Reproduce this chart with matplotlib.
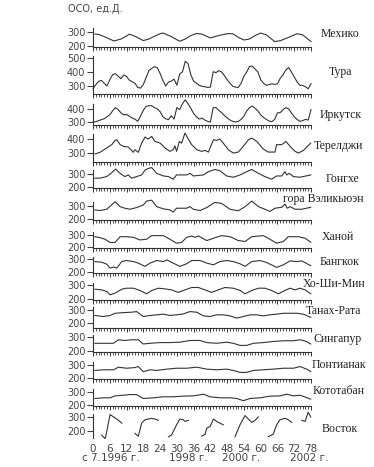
import matplotlib
matplotlib.use("Agg")
import matplotlib.pyplot as plt
import numpy as np
from matplotlib.ticker import MultipleLocator

# station names
stations = ["Мехико", "Тура", "Иркутск", "Терелджи", "Гонгхе", "гора Вэликьюэн",
            "Ханой", "Бангкок", "Хо-Ши-Мин", "Танах-Рата", "Сингапур",
            "Понтианак", "Кототабан", "Восток"]

month_ticks = list(range(0, 79, 6))
year_labels = ["с 7.1996 г.", "1998 г.", "2000 г.", "2002 г."]

# total ozone, DU, month index from 7.1996
mexico_m = [0.7, 2, 4, 6, 7.5, 10, 12, 13, 15, 18, 20, 22, 24, 25, 28, 31, 33, 35, 37, 39, 42,
            45, 48, 50, 52, 54, 56, 58, 60, 62, 65, 67, 70, 73, 75, 78]
mexico_v = [286, 283, 268, 250, 236, 250, 272, 285, 270, 239, 250, 270, 288, 293, 268, 234, 250,
            275, 290, 285, 258, 275, 288, 288, 262, 243, 250, 275, 293, 280, 232, 238, 262, 288,
            280, 232]

tura_v = [280, 310, 333, 340, 320, 300, 345, 380, 388, 370, 352, 378, 368, 342, 330, 320, 290,
          285, 310, 360, 410, 425, 438, 430, 390, 340, 300, 328, 335, 349, 305, 385, 400, 476,
          460, 380, 335, 320, 305, 298, 295, 290, 292, 402, 395, 410, 400, 375, 345, 320, 298,
          292, 290, 320, 370, 400, 440, 442, 420, 400, 345, 320, 305, 310, 315, 312, 315, 355,
          380, 415, 432, 400, 365, 330, 305, 305, 295, 280, 317]

irkutsk_v = [300, 302, 310, 318, 325, 340, 355, 385, 410, 395, 370, 355, 358, 345, 330, 322,
             305, 345, 390, 420, 425, 425, 410, 400, 380, 340, 325, 318, 348, 322, 410, 395,
             440, 470, 440, 405, 365, 340, 322, 330, 315, 305, 300, 410, 410, 390, 372, 350,
             332, 315, 305, 300, 305, 320, 345, 385, 410, 423, 405, 385, 355, 335, 320, 308,
             302, 320, 370, 372, 395, 410, 400, 370, 340, 320, 305, 310, 320, 315, 395]

tereldzh_m = [0.7, 2.5, 4.9, 6.7, 7.9, 8.5, 9.7, 10.9, 12.6, 13.8, 14.4, 15.0, 16.2, 17.4, 18.6,
              19.8, 21.0, 22.2, 24.0, 25.8, 27.5, 28.7, 29.3, 29.9, 30.9, 31.7, 32.9, 34.1,
              35.3, 37.1, 38.9, 40.1, 41.3, 43.1, 44.2, 45.4, 46.6, 48.4, 50.2, 52.0, 53.8,
              55.6, 56.8, 58.6, 60.9, 62.7, 65.1, 65.7, 67.5, 69.0, 70.5, 72.3, 73.5, 75.3, 77.9]
tereldzh_v = [293, 305, 336, 360, 390, 395, 360, 348, 343, 319, 305, 324, 305, 371, 414, 400,
              419, 383, 371, 336, 312, 324, 352, 312, 383, 371, 443, 400, 360, 324, 312, 319,
              307, 395, 390, 400, 371, 324, 300, 307, 348, 395, 407, 383, 329, 307, 307, 360,
              360, 383, 348, 312, 300, 319, 371]

gonghe_m = [0.7, 2.5, 4.9, 6.7, 8.1, 9.7, 11.4, 12.6, 13.8, 15.6, 17.4, 18.6, 19.8, 21.0, 22.8,
            25.2, 27.0, 28.7, 29.9, 33.5, 34.7, 35.9, 39.5, 41.3, 43.6, 45.4, 47.8, 50.2, 52.6,
            55.0, 56.8, 59.2, 61.5, 63.9, 65.7, 67.5, 68.7, 69.3, 70.2, 71.7, 74.1, 77.9]
gonghe_v = [268, 268, 280, 310, 338, 305, 280, 293, 268, 280, 293, 330, 343, 350, 305, 285,
            280, 260, 293, 293, 305, 285, 293, 318, 335, 325, 285, 275, 293, 318, 335, 305,
            280, 260, 285, 285, 318, 293, 305, 280, 275, 293]

veli_m = [0.7, 2.5, 4.9, 7.9, 9.7, 11.4, 13.2, 15.6, 18.0, 19.2, 21.0, 22.8, 25.2, 27.5, 28.7,
          29.9, 33.5, 34.7, 35.9, 38.3, 40.7, 43.6, 46.0, 49.0, 52.0, 54.4, 56.8, 59.2, 61.5,
          63.3, 65.1, 67.5, 68.7, 69.5, 70.5, 72.3, 74.7, 77.9]
veli_v = [270, 265, 275, 333, 295, 283, 275, 288, 308, 338, 345, 295, 278, 270, 253, 283, 283,
          295, 275, 265, 288, 328, 320, 275, 263, 295, 338, 295, 275, 258, 283, 290, 315, 283,
          295, 275, 275, 290]

hanoi_m = [0.7, 2.5, 4.3, 6.1, 7.9, 9.7, 12.0, 14.4, 16.8, 19.2, 21.0, 22.8, 25.2, 27.5, 29.9,
           31.7, 33.5, 35.3, 36.5, 37.7, 40.7, 43.1, 46.0, 49.0, 52.0, 54.4, 56.8, 60.9, 63.3,
           65.7, 68.1, 69.9, 73.5, 75.9, 77.9]
hanoi_v = [286, 278, 265, 238, 238, 286, 286, 281, 259, 265, 295, 295, 295, 265, 232, 238, 281,
           292, 281, 292, 254, 273, 295, 286, 254, 246, 286, 295, 265, 232, 246, 286, 286, 273,
           240]

bangkok_m = [0.7, 3.1, 4.9, 6.1, 7.3, 8.5, 10.3, 12.0, 14.4, 16.2, 18.6, 20.4, 22.8, 25.2, 26.4,
             28.7, 31.1, 33.5, 35.3, 38.3, 40.7, 43.1, 45.4, 47.8, 50.2, 52.6, 54.4, 56.8, 59.8,
             62.1, 65.7, 68.1, 70.5, 72.9, 74.7, 77.9]
bangkok_v = [280, 275, 260, 230, 238, 230, 280, 288, 280, 268, 243, 268, 288, 280, 293, 268,
             243, 263, 288, 288, 268, 255, 280, 288, 280, 263, 243, 280, 288, 273, 235, 255, 285,
             280, 285, 248]

hcm_m = [0.7, 3.1, 4.9, 6.1, 7.9, 10.3, 12.0, 14.4, 16.8, 19.2, 21.0, 23.4, 25.8, 28.1, 30.5,
         32.9, 35.3, 37.7, 40.1, 42.4, 44.8, 47.2, 50.2, 52.6, 54.4, 56.8, 59.2, 61.5, 63.9,
         66.3, 68.7, 70.5, 72.3, 74.1, 75.9, 77.9]
hcm_v = [270, 265, 254, 230, 242, 270, 277, 277, 261, 237, 261, 277, 272, 265, 247, 265, 282,
         282, 265, 247, 265, 282, 277, 261, 237, 261, 277, 277, 261, 237, 261, 277, 265, 277,
         265, 237]

tanah_m = [0.7, 3.7, 6.1, 7.9, 10.9, 13.8, 15.6, 18.0, 20.4, 22.8, 25.2, 27.5, 29.9, 32.3, 34.7,
           37.1, 39.5, 41.9, 44.2, 46.6, 49.0, 51.4, 53.8, 56.2, 58.6, 60.9, 63.3, 65.7, 68.1,
           70.5, 72.9, 75.3, 77.9]
tanah_v = [258, 250, 258, 275, 280, 283, 288, 250, 258, 263, 268, 258, 263, 270, 288, 283, 255,
           250, 263, 263, 255, 238, 250, 263, 263, 255, 263, 268, 275, 275, 275, 268, 243]

sing_m = [0.7, 3.7, 7.3, 9.1, 11.4, 13.8, 16.2, 18.0, 20.4, 23.9, 27.5, 31.1, 34.7, 38.3, 40.7,
          44.2, 47.8, 50.2, 52.6, 55.0, 57.4, 60.9, 64.5, 68.1, 71.7, 74.1, 76.4, 77.9]
sing_v = [255, 255, 255, 280, 275, 280, 280, 250, 255, 260, 260, 263, 275, 275, 260, 255, 263,
          255, 240, 240, 255, 260, 268, 273, 273, 280, 268, 250]

pont_m = [0.7, 3.7, 7.3, 9.1, 12.0, 15.0, 16.2, 18.0, 20.4, 22.8, 26.4, 29.9, 33.5, 37.1, 40.7,
          44.2, 47.8, 50.2, 52.6, 55.0, 57.4, 60.9, 64.5, 68.1, 71.7, 74.1, 76.4, 77.9]
pont_v = [258, 263, 263, 283, 275, 280, 288, 248, 263, 258, 268, 275, 275, 283, 268, 263, 268,
          258, 243, 243, 258, 263, 268, 275, 275, 288, 268, 250]

koto_m = [0.7, 3.7, 6.1, 7.9, 10.9, 13.2, 15.6, 18.0, 21.6, 25.2, 28.7, 32.3, 35.9, 39.5, 41.9,
          45.4, 49.0, 51.4, 53.8, 56.2, 59.8, 63.3, 66.9, 69.3, 71.7, 74.1, 77.9]
koto_v = [250, 255, 255, 270, 275, 280, 280, 250, 255, 263, 263, 268, 270, 283, 263, 255, 255,
          250, 233, 250, 255, 268, 270, 283, 270, 275, 245]

# Vostok: polar night gaps -> nan
vostok_m = [3.1, 4.3, 4.5, 6.1, 7.9, 8.5, 10.3, np.nan,
            15.0, 16.2, 16.8, 17.4, 18.6, 21.0, 22.2, 23.4, np.nan,
            27.0, 28.1, 29.9, 31.1, 32.3, 32.9, 34.1, np.nan,
            38.9, 40.1, 40.7, 41.9, 43.1, 44.2, 45.4, 46.6, np.nan,
            50.8, 52.6, 54.4, 55.6, 56.8, 58.0, 59.2, np.nan,
            62.7, 64.5, 65.7, 66.9, 68.7, 69.9, 71.1, np.nan,
            74.7, 75.9, 77.0, 77.9]
vostok_v = [171, 146, 154, 317, 293, 285, 256, np.nan,
            183, 163, 207, 256, 280, 290, 285, 276, np.nan,
            159, 171, 244, 285, 280, 268, 276, np.nan,
            163, 176, 220, 232, 285, 268, 256, 244, np.nan,
            159, 244, 310, 285, 261, 276, 300, np.nan,
            159, 178, 244, 280, 290, 280, 261, np.nan,
            276, 268, 334, 300]

months1 = np.arange(0, 79)
series = [(mexico_m, mexico_v), (months1, tura_v), (months1, irkutsk_v),
          (tereldzh_m, tereldzh_v), (gonghe_m, gonghe_v), (veli_m, veli_v),
          (hanoi_m, hanoi_v), (bangkok_m, bangkok_v), (hcm_m, hcm_v), (tanah_m, tanah_v),
          (sing_m, sing_v), (pont_m, pont_v), (koto_m, koto_v), (vostok_m, vostok_v)]

# layout in pixels: panel top, bottom, y-limits, y-ticks, name position
W, H = 374, 467
panel_px = [(28, 47), (56, 94), (104, 125), (134, 162), (170, 188), (202, 220), (232, 248),
            (257, 273), (283, 300), (307, 328), (335, 352), (362, 379), (389, 406), (414, 438)]
ylims = [(193, 329), (243, 514), (277, 438), (236, 436), (192, 331), (192, 331), (192, 325),
         (192, 315), (193, 314), (162, 323), (193, 314), (192, 323), (192, 323), (150, 321)]
yticks = [[200, 300], [300, 400, 500], [300, 400], [300, 400]] + [[200, 300]] * 10
name_px = [(340, 34), (341, 72), (341, 115), (338, 146), (342, 179), (323, 199), (338, 237),
           (340, 262), (334, 284), (334, 311), (338, 339), (339, 365), (339, 391), (340, 429)]

line_col = "#333333"
txt_col = "#444444"

fig = plt.figure(figsize=(W / 100, H / 100), dpi=100)
fig.patch.set_facecolor("white")

x0, x1 = 93, 311
for i, name in enumerate(stations):
    top, bot = panel_px[i]
    ax = fig.add_axes([x0 / W, 1 - bot / H, (x1 - x0) / W, (bot - top) / H])
    ax.set_facecolor("none")
    m, v = series[i]
    ax.plot(m, v, color=line_col, lw=0.8, clip_on=False)
    ax.set_xlim(0, 78)
    ax.set_ylim(*ylims[i])
    ax.set_yticks(yticks[i])
    ax.tick_params(axis="y", direction="out", length=4, width=0.8, pad=1.5,
                   labelsize=7, colors=txt_col)
    for s in ["top", "right"]:
        ax.spines[s].set_visible(False)
    ax.spines["left"].set_color(line_col)
    ax.spines["left"].set_linewidth(0.8)
    last = i == len(stations) - 1
    if not last:
        ax.spines["bottom"].set_color(line_col)
        ax.spines["bottom"].set_linewidth(0.8)
        ax.xaxis.set_major_locator(MultipleLocator(6))
        ax.xaxis.set_minor_locator(MultipleLocator(1))
        ax.tick_params(axis="x", which="major", direction="out", length=3.2, width=0.7,
                       labelbottom=False, color=line_col)
        ax.tick_params(axis="x", which="minor", direction="out", length=2, width=0.6,
                       color=line_col)
    else:
        ax.spines["bottom"].set_visible(False)
        ax.set_xticks(month_ticks)
        ax.tick_params(axis="x", length=0, pad=4, labelsize=7.5, colors=txt_col)
    fig.text(name_px[i][0] / W, 1 - name_px[i][1] / H, name, ha="center", va="center",
             fontsize=8.5, family="Liberation Serif", color="#222222")

fig.text(68 / W, 1 - 9 / H, "ОСО, ед.Д.", ha="left", va="center", fontsize=7, color=txt_col)
year_x = [111, 188, 241, 309]
for lab, xp in zip(year_labels, year_x):
    fig.text(xp / W, 1 - 458 / H, lab, ha="center", va="center", fontsize=7.5, color=txt_col)

fig.savefig("out.png", dpi=100)
